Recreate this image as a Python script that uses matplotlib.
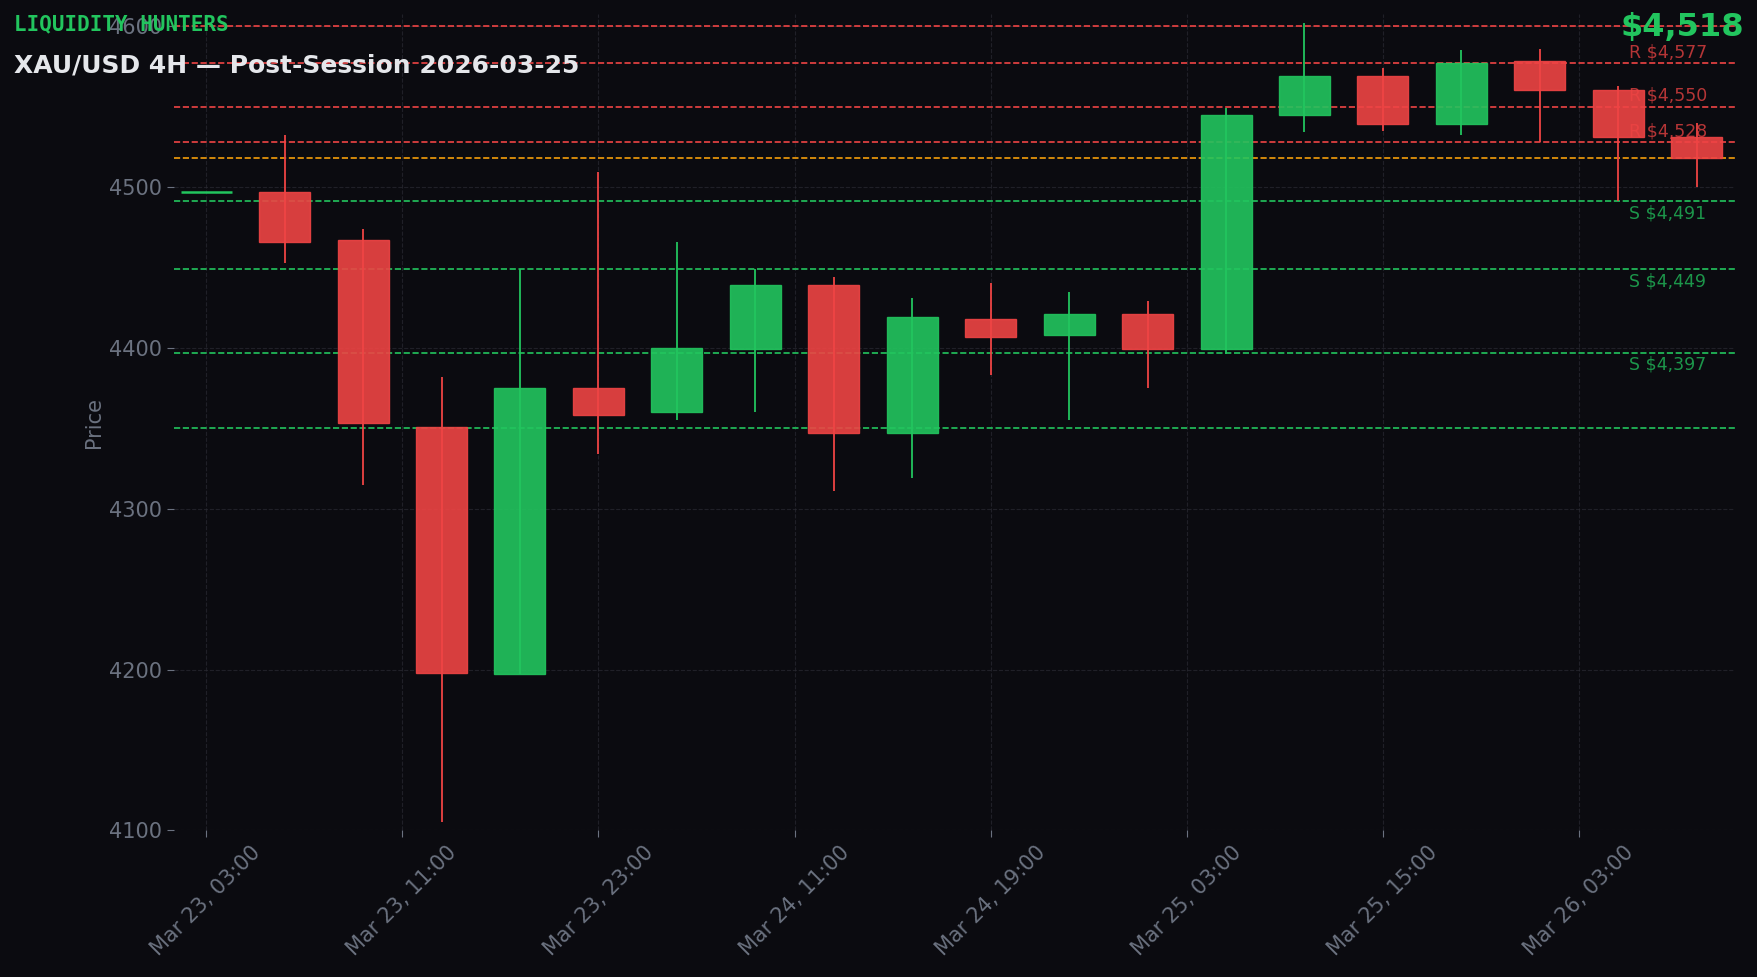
import numpy as np
import matplotlib.pyplot as plt

# -----------------------------
# DATA (4H candles)
# -----------------------------
opens  = [4497, 4497, 4467, 4351, 4197, 4375, 4360, 4399, 4439, 4347, 4418, 4408, 4421, 4399, 4545, 4569, 4539, 4578, 4560, 4531]
closes = [4497, 4466, 4353, 4198, 4375, 4358, 4400, 4439, 4347, 4419, 4407, 4421, 4399, 4545, 4569, 4539, 4577, 4560, 4531, 4518]
highs  = [4497, 4532, 4474, 4382, 4449, 4509, 4466, 4449, 4444, 4431, 4440, 4435, 4429, 4549, 4602, 4574, 4585, 4586, 4563, 4540]
lows   = [4497, 4453, 4315, 4105, 4197, 4334, 4355, 4360, 4311, 4319, 4383, 4355, 4375, 4396, 4534, 4535, 4532, 4528, 4491, 4500]

tick_pos    = [0, 2.5, 5, 7.5, 10, 12.5, 15, 17.5]
tick_labels = ["Mar 23, 03:00", "Mar 23, 11:00", "Mar 23, 23:00", "Mar 24, 11:00",
               "Mar 24, 19:00", "Mar 25, 03:00", "Mar 25, 15:00", "Mar 26, 03:00"]

resistance = [4600, 4577, 4550, 4528]
support    = [4491, 4449, 4397, 4350]
labeled_r  = [4577, 4550, 4528]
labeled_s  = [4491, 4449, 4397]
last_price = 4518

BG = "#0b0b10"
GREEN = "#22c55e"
RED = "#ef4444"
GREY = "#6b7280"

fig = plt.figure(figsize=(17.58, 9.77), dpi=100, facecolor=BG)
ax = fig.add_axes([0.099, 0.150, 0.888, 0.836], facecolor=BG)

width = 0.65
for i, (o, c, h, l) in enumerate(zip(opens, closes, highs, lows)):
    col = GREEN if c >= o else RED
    ax.vlines(i, l, h, color=col, linewidth=1.3, zorder=3)
    if o == c:
        ax.hlines(o, i - width / 2, i + width / 2, color=col, linewidth=1.8, zorder=4)
    else:
        ax.bar(i, c - o, bottom=o, width=width, color=col, alpha=0.9,
               edgecolor=col, linewidth=1, zorder=4)

for r in resistance:
    ax.axhline(r, color=RED, linestyle="--", linewidth=1.2, zorder=2)
for s in support:
    ax.axhline(s, color=GREEN, linestyle="--", linewidth=1.2, zorder=2)
ax.axhline(last_price, color="#f59e0b", linestyle="--", linewidth=1.2, zorder=2)

for r in labeled_r:
    ax.text(18.14, r + 1, f"R ${r:,}", color=RED, alpha=0.75, fontsize=12.5, va="bottom", zorder=5)
for s in labeled_s:
    ax.text(18.14, s - 2, f"S ${s:,}", color=GREEN, alpha=0.75, fontsize=12.5, va="top", zorder=5)

ax.set_xlim(-0.41, 19.49)
ax.set_ylim(4100, 4607.7)
ax.set_yticks([4100, 4200, 4300, 4400, 4500, 4600])
ax.set_xticks(tick_pos)
ax.set_xticklabels(tick_labels, rotation=45, ha="center")
ax.tick_params(colors=GREY, labelsize=15, length=5)
ax.set_ylabel("Price", color=GREY, fontsize=15)
ax.grid(True, color="#2a2a33", linestyle="--", linewidth=0.8, alpha=0.7)
for sp in ax.spines.values():
    sp.set_visible(False)

fig.text(0.008, 0.985, "LIQUIDITY HUNTERS", color=GREEN, fontsize=15,
         fontweight="bold", family="DejaVu Sans Mono", va="top")
fig.text(0.008, 0.945, "XAU/USD 4H \u2014 Post-Session 2026-03-25", color="#e5e7eb",
         fontsize=18, fontweight="bold", va="top")
fig.text(0.992, 0.988, f"${last_price:,}", color=GREEN, fontsize=23,
         fontweight="bold", ha="right", va="top")

fig.savefig("out.png", facecolor=BG)
